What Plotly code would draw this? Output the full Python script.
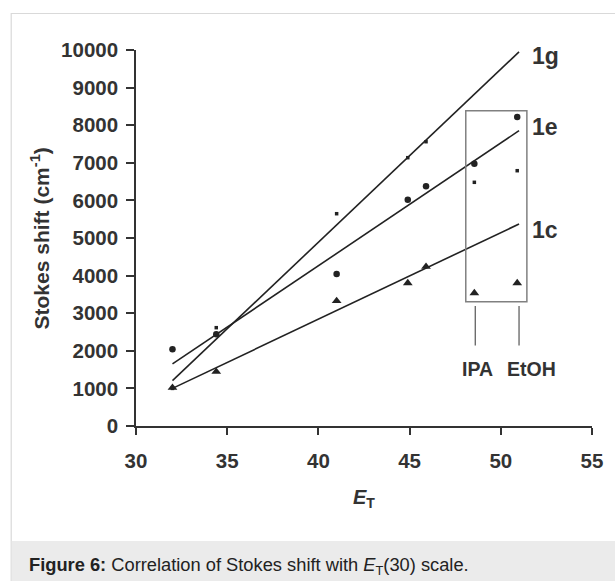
import plotly.graph_objects as go

# ---------------- data ----------------
et_values = [32.0, 34.4, 41.0, 44.9, 45.9, 48.55, 50.9]
shift_1c = [1020, 1444, 3325, 3803, 4237, 3537, 3803]
shift_1e = [2040, 2440, 4043, 6019, 6375, 6976, 8218]
shift_1g = [1000, 2615, 5646, 7136, 7561, 6481, 6790]

fit_x = [32.0, 51.0]
fit_1c = [1000, 5372]
fit_1e = [1650, 7854]
fit_1g = [1205, 9950]

x_ticks = [30, 35, 40, 45, 50, 55]
y_ticks = [0, 1000, 2000, 3000, 4000, 5000, 6000, 7000, 8000, 9000, 10000]

outlier_box_x = [48.08, 51.43]
outlier_box_y = [3306, 8386]
solvent_names = ["IPA", "EtOH"]
solvent_x = [48.6, 51.0]

# ---------------- layout constants ----------------
W, H = 615, 581
L, R, T, B = 136.3, 596.0, 50.0, 426.0
FONT = "Liberation Sans, Arial, sans-serif"
DARK = "#222222"
TXT = "#333333"


def px(xp):
    return (xp - L) / (R - L)


def py(yp):
    return (B - yp) / (B - T)


fig = go.Figure()

for ys in (fit_1g, fit_1e, fit_1c):
    fig.add_trace(go.Scatter(x=fit_x, y=ys, mode="lines",
                             line=dict(color=DARK, width=1.6),
                             hoverinfo="skip", showlegend=False, cliponaxis=False))

fig.add_trace(go.Scatter(x=et_values, y=shift_1g, mode="markers",
                         marker=dict(symbol="square", size=3.5, color=DARK),
                         showlegend=False, cliponaxis=False))
fig.add_trace(go.Scatter(x=et_values, y=shift_1e, mode="markers",
                         marker=dict(symbol="circle", size=6.5, color=DARK),
                         showlegend=False, cliponaxis=False))
fig.add_trace(go.Scatter(x=et_values, y=shift_1c, mode="markers",
                         marker=dict(symbol="triangle-up", size=8.5, color=DARK),
                         showlegend=False, cliponaxis=False))

shapes = []
# outer frame (light gray)
shapes.append(dict(type="rect", xref="paper", yref="paper",
                   x0=px(10.5), x1=px(640), y0=py(13.5), y1=py(600),
                   line=dict(color="#d9d9d9", width=1.2), fillcolor="rgba(0,0,0,0)",
                   layer="below"))
# caption band
shapes.append(dict(type="rect", xref="paper", yref="paper",
                   x0=px(11), x1=px(640), y0=py(541), y1=py(600),
                   line=dict(width=0), fillcolor="#ebebeb", layer="below"))
# outlier box
shapes.append(dict(type="rect", xref="x", yref="y",
                   x0=outlier_box_x[0], x1=outlier_box_x[1],
                   y0=outlier_box_y[0], y1=outlier_box_y[1],
                   line=dict(color="#808080", width=1.5)))
# solvent pointer lines
for sx in solvent_x:
    shapes.append(dict(type="line", xref="x", yref="paper",
                       x0=sx, x1=sx, y0=py(306), y1=py(345.5),
                       line=dict(color="#555555", width=1.2)))

annotations = []
for name, yc in (("1g", 56), ("1e", 127), ("1c", 230)):
    annotations.append(dict(text="<b>" + name + "</b>", xref="paper", yref="paper",
                            x=px(534), y=py(yc), xanchor="left", yanchor="middle",
                            showarrow=False, font=dict(family=FONT, size=23, color=TXT)))
for name, sx in zip(solvent_names, [481, 535]):
    annotations.append(dict(text="<b>" + name + "</b>", xref="paper", yref="paper",
                            x=px(sx), y=py(368.5), xanchor="center", yanchor="middle",
                            showarrow=False, font=dict(family=FONT, size=19.5, color=TXT)))
# y-axis title
annotations.append(dict(text="<b>Stokes shift (cm<sup>-1</sup>)</b>", xref="paper", yref="paper",
                        x=px(40), y=py(238), textangle=-90, xanchor="center", yanchor="middle",
                        showarrow=False, font=dict(family=FONT, size=21, color=TXT)))
# x-axis title
annotations.append(dict(text="<b><i>E</i></b><sub><b>T</b></sub>", xref="paper", yref="paper",
                        x=px(366), y=py(498), xanchor="center", yanchor="middle",
                        showarrow=False, font=dict(family=FONT, size=20, color=TXT)))
# caption
annotations.append(dict(text="<b>Figure 6:</b> Correlation of Stokes shift with <i>E</i><sub>T</sub>(30) scale.",
                        xref="paper", yref="paper", x=px(26), y=py(566),
                        xanchor="left", yanchor="middle", showarrow=False,
                        font=dict(family=FONT, size=18.3, color="#222222")))

fig.update_layout(
    width=W, height=H,
    margin=dict(l=L, r=W - R, t=T, b=H - B, pad=0),
    paper_bgcolor="white", plot_bgcolor="white",
    shapes=shapes, annotations=annotations,
    font=dict(family=FONT, color=TXT),
    xaxis=dict(range=[30, 55], tickvals=x_ticks, ticktext=["<b>%d</b>" % v for v in x_ticks],
               showgrid=False, zeroline=False, showline=True, linecolor="#333333",
               linewidth=1.6, ticks="outside", ticklen=7, tickwidth=1.5, tickcolor="#333333",
               tickfont=dict(family=FONT, size=20.5, color=TXT),
               ticklabelstandoff=9),
    yaxis=dict(range=[0, 10000], tickvals=y_ticks, ticktext=["<b>%d</b>" % v for v in y_ticks],
               showgrid=False, zeroline=False, showline=True, linecolor="#333333",
               linewidth=1.6, ticks="outside", ticklen=8, tickwidth=1.5, tickcolor="#333333",
               tickfont=dict(family=FONT, size=20.5, color=TXT),
               ticklabelstandoff=4),
    showlegend=False,
)

fig.write_html("out.html")
